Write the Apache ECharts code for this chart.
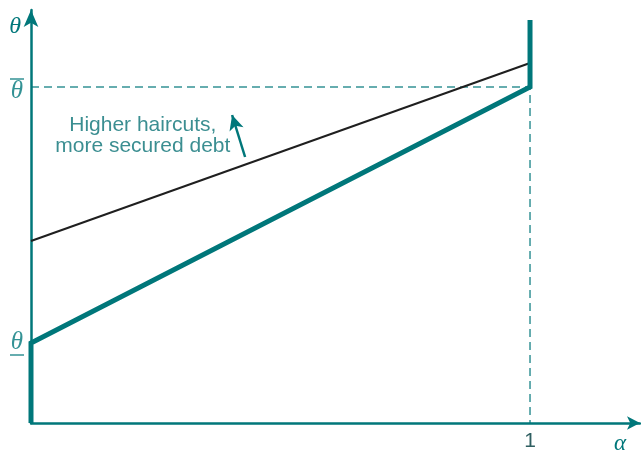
<!DOCTYPE html>
<html>
<head>
<meta charset="utf-8">
<script src="https://cdn.jsdelivr.net/npm/echarts@6/dist/echarts.min.js"></script>
<style>
  html, body { margin: 0; padding: 0; background: #fff; }
  #chart { width: 641px; height: 450px; }
</style>
</head>
<body>
<div id="chart"></div>
<script>
// Collateral threshold θ against haircut α
const kinkAlpha = [0, 0, 1, 1];
const kinkTheta = [0, 0.80, 3.36, 4.03];
const securedAlpha = [0, 1];
const securedTheta = [1.82, 3.60];
const thetaLow = 0.80;
const thetaBar = 3.36;
const alphaOne = 1;
const noteAt = [0.224, 2.87];
const noteArrowFrom = [0.429, 2.66];
const noteArrowTo = [0.403, 3.08];
const noteLines = ['Higher haircuts,', 'more secured debt'];

const TEAL = '#00777a';
const zip = (xs, ys) => xs.map((x, i) => [x, ys[i]]);

const chart = echarts.init(document.getElementById('chart'), null, { renderer: 'canvas' });

chart.setOption({
  animation: false,
  grid: { left: 31, right: 1, top: 10, bottom: 27, containLabel: false, outerBoundsMode: 'none' },
  xAxis: {
    type: 'value', min: 0, max: 1.2204, interval: 1,
    name: 'α', nameLocation: 'end', nameGap: -20,
    nameTextStyle: { color: TEAL, fontFamily: 'Liberation Serif', fontStyle: 'italic', fontSize: 23,
      align: 'center', verticalAlign: 'top', padding: [9, 0, 0, 0] },
    axisLine: { lineStyle: { color: TEAL, width: 2.5 }, symbol: ['none', 'arrow'], symbolSize: [10, 13] },
    axisTick: { show: false },
    splitLine: { show: false },
    axisLabel: {
      formatter: v => (v === alphaOne ? '1' : ''),
      color: '#2f5f61', fontFamily: 'Liberation Sans', fontSize: 21, margin: 8
    }
  },
  yAxis: {
    type: 'value', min: 0, max: 4.13,
    name: 'θ', nameLocation: 'end', nameGap: -17,
    nameTextStyle: { color: TEAL, fontFamily: 'Liberation Serif', fontStyle: 'italic', fontSize: 24,
      align: 'right', verticalAlign: 'middle', padding: [0, 10, 0, 0] },
    axisLine: { lineStyle: { color: TEAL, width: 2.5 }, symbol: ['none', 'arrow'], symbolSize: [11, 17] },
    axisTick: { show: false },
    splitLine: { show: false },
    axisLabel: { show: false }
  },
  series: [
    {
      // reference lines at θ̄ and α = 1
      type: 'line', silent: true, symbol: 'none',
      data: [[0, thetaBar], [alphaOne, thetaBar], [alphaOne, 0]],
      lineStyle: { color: TEAL, width: 1.5, type: [8, 5], opacity: 0.8 },
      z: 1
    },
    {
      type: 'line', silent: true, symbol: 'none',
      data: zip(securedAlpha, securedTheta),
      lineStyle: { color: '#1f1f1f', width: 2 },
      z: 3
    },
    {
      type: 'line', silent: true, symbol: 'none',
      data: zip(kinkAlpha, kinkTheta),
      lineStyle: { color: TEAL, width: 5, cap: 'butt', join: 'miter' },
      z: 4
    },
    {
      // tick labels θ̄ and θ̲ on the vertical axis
      type: 'scatter', silent: true, symbolSize: 0,
      data: [
        { value: [0, thetaBar], label: { formatter: '{bar|}\n{th|θ}', offset: [0, 2] } },
        { value: [0, thetaLow], label: { formatter: '{th|θ}\n{bar|}', offset: [0, 2] } }
      ],
      label: {
        show: true, position: 'left', distance: 14, align: 'center',
        rich: {
          th: { color: TEAL, fontFamily: 'Liberation Serif', fontStyle: 'italic', fontSize: 25, lineHeight: 20, align: 'center' },
          bar: { width: 14, height: 1.5, lineHeight: 5, backgroundColor: TEAL, align: 'center' }
        }
      },
      z: 5
    },
    {
      // annotation with arrow
      type: 'scatter', silent: true, symbolSize: 0,
      data: [noteAt],
      label: {
        show: true, position: 'inside', formatter: noteLines.join('\n'),
        color: '#0a7275', fontFamily: 'Liberation Sans', fontSize: 21, lineHeight: 21, align: 'center'
      },
      markLine: {
        silent: true, symbol: ['none', 'arrow'], symbolSize: [11, 15], label: { show: false },
        lineStyle: { color: TEAL, width: 2.5, type: 'solid' },
        data: [[{ coord: noteArrowFrom }, { coord: noteArrowTo }]]
      },
      z: 5
    }
  ]
});
</script>
</body>
</html>
